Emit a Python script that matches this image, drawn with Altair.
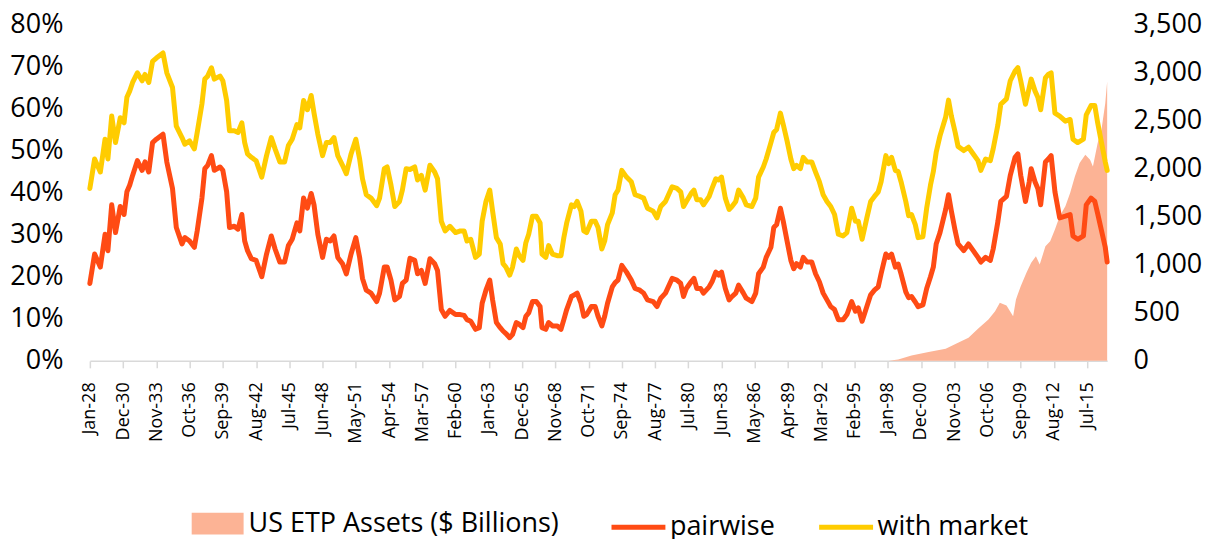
import json
import altair as alt
import pandas as pd

# ---- data (monthly correlation, % ; ETP assets, $bn) ----
dates = [
    "1928-01", "1928-06", "1928-12", "1929-05", "1929-08", "1929-12", "1930-04", "1930-09",
    "1931-01", "1931-04", "1931-07", "1931-10", "1932-03", "1932-08", "1932-11", "1933-03",
    "1933-07", "1933-11", "1934-06", "1934-10", "1935-04", "1935-08", "1936-02", "1936-05",
    "1936-10", "1937-03", "1937-06", "1937-11", "1938-02", "1938-05", "1938-09", "1938-12",
    "1939-06", "1939-09", "1940-01", "1940-04", "1940-09", "1941-01", "1941-05", "1941-08",
    "1941-11", "1942-03", "1942-08", "1943-02", "1943-07", "1943-12", "1944-04", "1944-09",
    "1945-02", "1945-06", "1945-10", "1946-03", "1946-06", "1946-10", "1947-02", "1947-06",
    "1947-09", "1948-01", "1948-06", "1948-10", "1949-02", "1949-06", "1949-10", "1950-03",
    "1950-07", "1950-12", "1951-05", "1951-09", "1951-12", "1952-04", "1952-09", "1953-03",
    "1953-06", "1953-11", "1954-02", "1954-06", "1954-10", "1955-03", "1955-06", "1955-10",
    "1956-02", "1956-07", "1956-10", "1957-02", "1957-06", "1957-11", "1958-04", "1958-07",
    "1958-11", "1959-03", "1959-08", "1960-02", "1960-07", "1960-11", "1961-02", "1961-06",
    "1961-11", "1962-03", "1962-06", "1962-10", "1963-02", "1963-05", "1963-09", "1964-01",
    "1964-04", "1964-07", "1964-11", "1965-02", "1965-06", "1965-09", "1966-01", "1966-04",
    "1966-07", "1966-11", "1967-03", "1967-07", "1967-09", "1968-01", "1968-04", "1968-08",
    "1969-01", "1969-05", "1969-08", "1969-11", "1970-04", "1970-07", "1970-10", "1971-02",
    "1971-05", "1971-08", "1972-01", "1972-05", "1972-08", "1972-12", "1973-03", "1973-06",
    "1973-11", "1974-02", "1974-05", "1974-09", "1975-02", "1975-07", "1975-11", "1976-04",
    "1976-08", "1976-12", "1977-06", "1977-10", "1978-02", "1978-07", "1979-02", "1979-07",
    "1979-11", "1980-02", "1980-05", "1980-10", "1981-01", "1981-04", "1981-08", "1981-11",
    "1982-05", "1982-08", "1982-12", "1983-03", "1983-06", "1983-10", "1984-02", "1984-05",
    "1984-09", "1984-12", "1985-05", "1985-08", "1986-02", "1986-06", "1986-09", "1987-02",
    "1987-05", "1987-10", "1988-01", "1988-04", "1988-08", "1988-11", "1989-03", "1989-07",
    "1989-10", "1990-01", "1990-05", "1990-08", "1990-12", "1991-05", "1991-09", "1992-01",
    "1992-05", "1992-09", "1993-01", "1993-05", "1993-09", "1994-02", "1994-06", "1994-11",
    "1995-03", "1995-06", "1995-10", "1996-03", "1996-07", "1996-11", "1997-03", "1997-06",
    "1997-11", "1998-02", "1998-05", "1998-09", "1998-12", "1999-03", "1999-08", "1999-11",
    "2000-02", "2000-06", "2000-09", "2001-02", "2001-06", "2001-10", "2002-01", "2002-04",
    "2002-08", "2003-02", "2003-05", "2003-08", "2003-12", "2004-03", "2004-09", "2005-02",
    "2005-07", "2005-12", "2006-03", "2006-08", "2007-01", "2007-04", "2007-09", "2007-12",
    "2008-06", "2008-10", "2009-03", "2009-06", "2009-09", "2010-02", "2010-06", "2010-08",
    "2010-12", "2011-03", "2011-06", "2011-11", "2012-02", "2012-05", "2012-09", "2013-02",
    "2013-08", "2014-01", "2014-04", "2014-09", "2015-03", "2015-06", "2015-11", "2016-03",
    "2016-06", "2016-10", "2017-02", "2017-04",
]

with_market = [
    41.0, 48.0, 44.9, 52.7, 48.0, 58.2, 51.9, 57.8,
    56.6, 62.7, 64.2, 66.2, 68.5, 66.6, 68.1, 66.2,
    71.2, 72.0, 73.2, 68.5, 65.0, 55.8, 53.1, 51.5,
    52.3, 50.4, 54.3, 61.1, 67.0, 67.7, 69.7, 67.0,
    67.7, 66.6, 61.9, 54.7, 54.7, 54.3, 56.6, 51.9,
    49.2, 48.4, 47.6, 43.7, 48.8, 53.1, 50.4, 47.3,
    47.3, 51.2, 52.7, 56.2, 55.4, 61.9, 59.7, 63.1,
    58.9, 53.9, 48.8, 51.9, 51.9, 53.1, 48.8, 46.5,
    44.5, 49.2, 52.7, 48.0, 43.3, 39.5, 38.7, 36.9,
    38.7, 45.7, 46.1, 41.8, 36.7, 37.9, 40.6, 45.7,
    45.5, 46.1, 43.0, 44.1, 40.6, 46.5, 44.9, 43.3,
    33.2, 30.9, 32.0, 30.5, 30.9, 30.9, 28.5, 28.9,
    24.6, 25.4, 33.2, 37.9, 40.6, 35.6, 29.3, 27.8,
    23.1, 22.3, 20.4, 22.3, 26.6, 25.0, 23.9, 28.1,
    30.1, 34.4, 34.4, 32.8, 25.4, 24.6, 27.4, 25.4,
    25.0, 25.0, 29.3, 32.8, 37.1, 36.7, 37.9, 35.6,
    30.9, 30.5, 33.2, 33.2, 31.7, 26.6, 28.5, 32.4,
    35.2, 39.5, 40.6, 45.3, 43.7, 42.6, 39.5, 39.1,
    38.7, 36.3, 35.6, 34.0, 36.7, 37.9, 41.4, 41.0,
    40.2, 36.7, 37.9, 39.8, 40.6, 38.3, 38.3, 37.1,
    39.1, 41.0, 43.3, 43.0, 43.7, 38.7, 36.0, 36.7,
    37.9, 40.6, 38.7, 37.1, 36.7, 38.7, 43.7, 46.1,
    48.0, 51.9, 54.3, 55.0, 58.9, 56.2, 52.3, 48.0,
    45.7, 46.5, 45.7, 48.4, 47.3, 47.3, 44.9, 42.6,
    39.5, 37.9, 36.7, 34.8, 30.1, 29.7, 30.5, 36.3,
    33.2, 33.2, 28.9, 34.0, 37.9, 39.1, 40.2, 42.6,
    48.8, 46.9, 48.4, 45.3, 45.0, 42.6, 37.9, 34.5,
    34.8, 32.4, 29.3, 29.5, 36.3, 41.8, 45.0, 49.6,
    53.5, 58.0, 62.0, 58.2, 54.3, 51.0, 50.0, 50.8,
    49.2, 47.6, 45.3, 48.0, 47.6, 50.4, 56.2, 61.0,
    62.3, 66.6, 68.9, 69.7, 66.6, 61.0, 65.0, 67.0,
    64.2, 62.7, 59.7, 67.3, 68.1, 68.5, 58.9, 58.2,
    57.0, 57.4, 52.7, 51.9, 52.7, 58.5, 60.7, 60.7,
    56.6, 51.9, 47.3, 45.3,
]

pairwise = [
    18.4, 25.4, 22.3, 30.1, 26.2, 37.1, 30.5, 36.7,
    34.8, 40.2, 41.8, 44.1, 47.6, 45.3, 47.3, 44.9,
    51.9, 52.7, 53.9, 47.3, 41.0, 31.7, 27.8, 29.3,
    28.5, 27.0, 30.9, 38.7, 45.7, 46.5, 48.8, 45.3,
    46.1, 45.3, 40.2, 31.7, 32.0, 31.3, 34.8, 28.5,
    26.2, 24.3, 23.9, 20.0, 25.4, 29.7, 26.6, 23.5,
    23.5, 27.4, 28.9, 32.8, 30.9, 38.7, 36.3, 39.8,
    37.1, 30.1, 24.6, 28.9, 28.5, 29.7, 24.6, 23.1,
    20.7, 25.4, 29.3, 24.6, 19.6, 16.8, 16.1, 14.1,
    16.1, 22.3, 22.3, 19.2, 14.5, 15.3, 18.4, 19.2,
    24.4, 23.9, 20.7, 21.5, 18.4, 24.3, 23.1, 21.5,
    12.2, 10.6, 12.0, 11.0, 11.0, 10.8, 9.8, 9.4,
    7.5, 7.9, 13.7, 16.8, 19.2, 14.5, 9.1, 7.9,
    7.1, 6.5, 5.5, 6.3, 9.1, 8.7, 7.9, 10.6,
    11.4, 14.1, 14.1, 12.9, 7.9, 7.5, 9.1, 8.3,
    8.3, 7.5, 9.8, 12.2, 15.3, 15.7, 16.1, 13.7,
    10.6, 11.0, 12.9, 12.9, 10.6, 8.3, 10.6, 13.7,
    17.6, 18.6, 19.2, 22.7, 21.1, 19.2, 17.2, 16.8,
    16.1, 14.5, 14.1, 12.9, 14.9, 16.1, 19.6, 19.2,
    18.4, 15.3, 17.2, 18.8, 19.6, 17.2, 17.2, 16.1,
    17.6, 18.8, 21.1, 20.4, 21.1, 17.2, 14.5, 15.3,
    16.1, 18.0, 16.1, 14.9, 14.1, 16.1, 20.7, 22.3,
    24.6, 27.0, 31.7, 32.4, 36.3, 33.2, 28.5, 23.9,
    21.9, 23.1, 22.3, 24.6, 23.5, 23.5, 20.7, 18.8,
    16.1, 14.5, 12.9, 12.2, 9.8, 9.8, 11.0, 14.1,
    11.8, 12.6, 9.4, 12.9, 15.7, 16.8, 17.6, 20.7,
    25.4, 24.6, 25.4, 22.3, 23.0, 20.7, 16.4, 15.0,
    15.3, 14.0, 12.9, 13.3, 17.2, 20.0, 22.3, 27.8,
    30.5, 36.0, 39.5, 35.6, 30.9, 27.8, 26.2, 27.8,
    26.2, 24.6, 23.5, 24.6, 23.9, 26.6, 33.2, 37.9,
    39.1, 44.1, 48.4, 49.2, 44.1, 37.9, 42.6, 45.7,
    42.6, 41.0, 37.1, 47.3, 48.0, 48.8, 40.2, 34.0,
    34.4, 34.8, 29.7, 28.9, 29.7, 37.1, 38.7, 37.9,
    35.0, 31.0, 27.0, 23.5,
]

etp_dates = [
    "1998-02", "1998-12", "2000-02", "2001-08", "2003-02", "2004-03", "2005-02", "2005-12",
    "2006-11", "2007-06", "2007-11", "2008-06", "2009-01", "2009-04", "2009-09", "2010-03",
    "2010-08", "2011-01", "2011-05", "2011-11", "2012-04", "2012-09", "2013-02", "2013-08",
    "2014-01", "2014-06", "2014-11", "2015-05", "2015-10", "2016-01", "2016-06", "2016-10",
    "2017-02", "2017-04",
]
etp_assets = [
    0, 15, 57, 91, 127, 189, 241, 334,
    431, 517, 604, 576, 465, 639, 777, 916,
    1020, 1088, 1002, 1192, 1244, 1366, 1504, 1608,
    1747, 1919, 2058, 2145, 2093, 2023, 2266, 2404,
    2681, 2906,
]

tick_labels = [
    "Jan-28", "Dec-30", "Nov-33", "Oct-36", "Sep-39", "Aug-42", "Jul-45", "Jun-48",
    "May-51", "Apr-54", "Mar-57", "Feb-60", "Jan-63", "Dec-65", "Nov-68", "Oct-71",
    "Sep-74", "Aug-77", "Jul-80", "Jun-83", "May-86", "Apr-89", "Mar-92", "Feb-95",
    "Jan-98", "Dec-00", "Nov-03", "Oct-06", "Sep-09", "Aug-12", "Jul-15",
]

ETP_NAME = "US ETP Assets ($ Billions)"
LINE_NAMES = ["pairwise", "with market"]
FONT = "Open Sans"


def month_index(s):
    y, m = s.split("-")
    return (int(y) - 1928) * 12 + int(m) - 1


lines = pd.DataFrame({
    "m": [month_index(d) for d in dates] * 2,
    "v": pairwise + with_market,
    "series": [LINE_NAMES[0]] * len(dates) + [LINE_NAMES[1]] * len(dates),
})
etp = pd.DataFrame({
    "m": [month_index(d) for d in etp_dates],
    "v": etp_assets,
    "series": [ETP_NAME] * len(etp_dates),
})

last_month = month_index("2017-04")
x_scale = alt.Scale(domain=[0, last_month], nice=False, zero=False)
x_axis = alt.Axis(
    values=list(range(0, 35 * len(tick_labels), 35)),
    labelExpr=json.dumps(tick_labels) + "[round(datum.value / 35)]",
    labelAngle=-90, labelFont=FONT, labelFontSize=18, labelColor="#000000",
    labelPadding=14, domainColor="#D9D9D9", domainWidth=1.5,
    tickColor="#D9D9D9", tickWidth=1.5, tickSize=7, grid=False,
    labelOverlap=False, labelFlush=False,
)

area = alt.Chart(etp).mark_area(opacity=1, interpolate="linear").encode(
    x=alt.X("m:Q", scale=x_scale, axis=x_axis, title=None),
    y=alt.Y("v:Q", scale=alt.Scale(domain=[0, 3500], nice=False),
            axis=alt.Axis(orient="right", values=list(range(0, 3501, 500)), format=",.0f",
                          labelFont=FONT, labelFontSize=27, labelColor="#000000",
                          labelPadding=26, domain=False, ticks=False, grid=False),
            title=None),
    fill=alt.Fill("series:N", scale=alt.Scale(domain=[ETP_NAME], range=["#FCB395"]),
                  legend=alt.Legend(title=None, orient="none", legendX=102, legendY=474,
                                    direction="horizontal",
                                    symbolType="M-1,-0.42H1V0.42H-1Z", symbolSize=2704,
                                    symbolStrokeWidth=0, symbolOpacity=1,
                                    labelFont=FONT, labelFontSize=27, labelColor="#000000",
                                    labelLimit=500, labelOffset=5, padding=0)),
)

line = alt.Chart(lines).mark_line(strokeWidth=5, strokeCap="round", strokeJoin="round").encode(
    x=alt.X("m:Q", scale=x_scale, axis=x_axis, title=None),
    y=alt.Y("v:Q", scale=alt.Scale(domain=[0, 80], nice=False),
            axis=alt.Axis(orient="left", values=list(range(0, 81, 10)),
                          labelExpr="datum.value + '%'",
                          labelFont=FONT, labelFontSize=27, labelColor="#000000",
                          labelPadding=27, domain=False, ticks=False, grid=False),
            title=None),
    stroke=alt.Stroke("series:N", scale=alt.Scale(domain=LINE_NAMES, range=["#FF4B14", "#FFCC00"]),
                      legend=alt.Legend(title=None, orient="none", legendX=520, legendY=474,
                                        direction="horizontal", symbolType="stroke",
                                        symbolSize=2916, symbolStrokeWidth=5,
                                        columnPadding=33, labelFont=FONT, labelFontSize=27,
                                        labelColor="#000000", labelLimit=500,
                                        labelOffset=2, padding=0)),
    order=alt.Order("m:Q"),
)

chart = alt.layer(area, line).resolve_scale(y="independent").properties(
    width=1019, height=337, background="#FFFFFF",
    autosize=alt.AutoSizeParams(type="none"),
    padding={"left": 82, "top": 16, "right": 100, "bottom": 178},
).configure_view(stroke=None)

chart.save("out.html", embed_options={"renderer": "svg", "actions": False})
